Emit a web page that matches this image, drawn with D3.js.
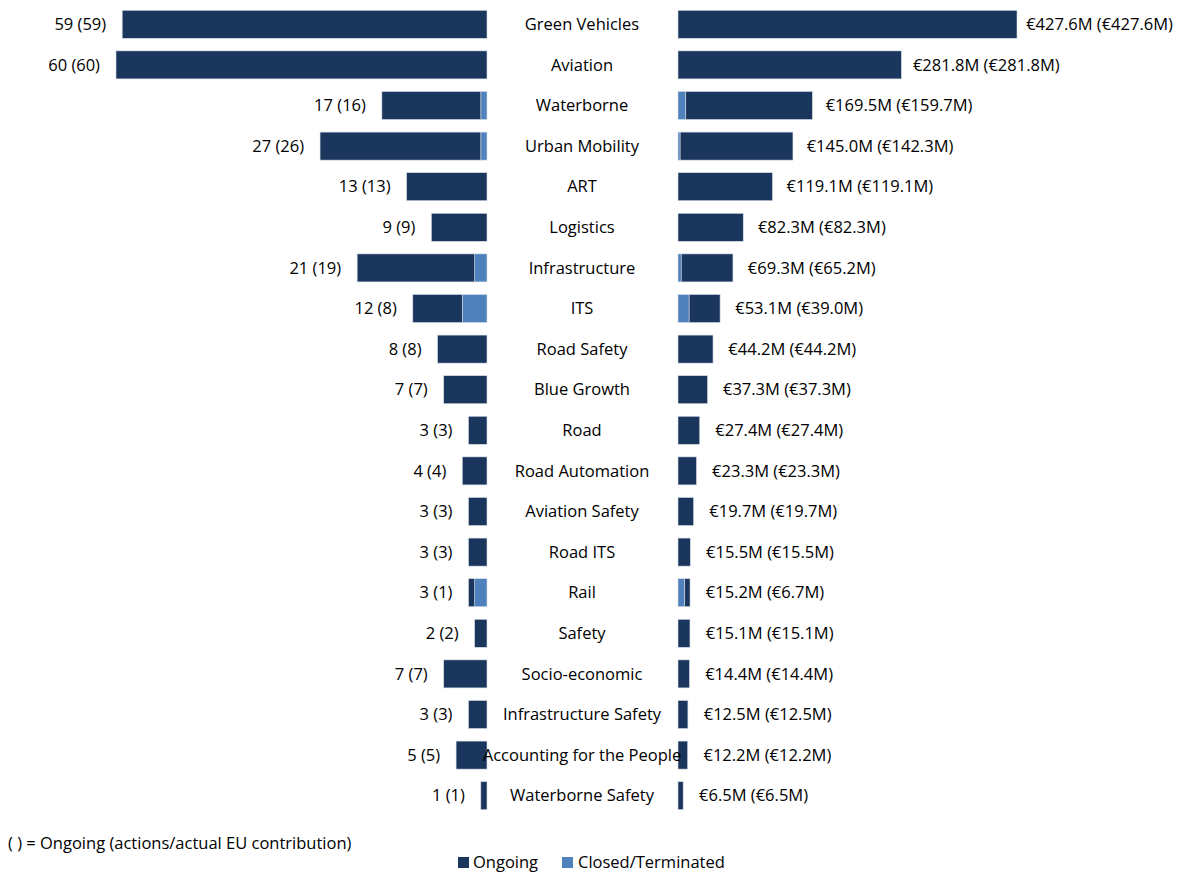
<!DOCTYPE html>
<html>
<head>
<meta charset="utf-8">
<script src="https://cdn.jsdelivr.net/npm/d3@7"></script>
<style>
  html, body { margin: 0; padding: 0; background: #fff; }
  svg { display: block; font-family: "Open Sans", sans-serif; }
</style>
</head>
<body>
<svg id="chart" width="1182" height="874"></svg>
<script>
// Thematic areas, ordered by total EU contribution
const categories = [
  "Green Vehicles", "Aviation", "Waterborne", "Urban Mobility", "ART", "Logistics",
  "Infrastructure", "ITS", "Road Safety", "Blue Growth", "Road", "Road Automation",
  "Aviation Safety", "Road ITS", "Rail", "Safety", "Socio-economic",
  "Infrastructure Safety", "Accounting for the People", "Waterborne Safety"
];
// Number of actions: total and ongoing
const actionsTotal   = [59, 60, 17, 27, 13, 9, 21, 12, 8, 7, 3, 4, 3, 3, 3, 2, 7, 3, 5, 1];
const actionsOngoing = [59, 60, 16, 26, 13, 9, 19, 8, 8, 7, 3, 4, 3, 3, 1, 2, 7, 3, 5, 1];
// EU contribution (million EUR): total and ongoing
const fundTotal   = [427.6, 281.8, 169.5, 145.0, 119.1, 82.3, 69.3, 53.1, 44.2, 37.3, 27.4, 23.3, 19.7, 15.5, 15.2, 15.1, 14.4, 12.5, 12.2, 6.5];
const fundOngoing = [427.6, 281.8, 159.7, 142.3, 119.1, 82.3, 65.2, 39.0, 44.2, 37.3, 27.4, 23.3, 19.7, 15.5, 6.7, 15.1, 14.4, 12.5, 12.2, 6.5];
const legendLabels = ["Ongoing", "Closed/Terminated"];
const noteText = "( ) = Ongoing (actions/actual EU contribution)";

const colOngoing = "#1b365d";
const colClosed = "#4f81bd";
const edge = "#d5dce6";

const svg = d3.select("#chart");

const y = d3.scaleBand().domain(categories).range([4, 816]).paddingInner(0.31).paddingOuter(0.155);

// Left side: actions, growing leftwards from the centre column
const xL = d3.scaleLinear().domain([0, 60]).range([487, 116]);
// Right side: EU contribution, growing rightwards
const xR = d3.scaleLinear().domain([0, 427.6]).range([678, 1017]);

const rows = categories.map((c, i) => ({
  cat: c,
  aT: actionsTotal[i], aO: actionsOngoing[i],
  fT: fundTotal[i], fO: fundOngoing[i]
}));

const g = svg.append("g");
const bh = y.bandwidth();

// Closed segments sit next to the centre, ongoing segments outside them
g.selectAll(".lc").data(rows.filter(d => d.aT > d.aO)).join("rect")
  .attr("x", d => xL(d.aT - d.aO)).attr("y", d => y(d.cat))
  .attr("width", d => xL(0) - xL(d.aT - d.aO)).attr("height", bh)
  .attr("fill", colClosed).attr("stroke", edge).attr("stroke-width", 0.6);
g.selectAll(".lo").data(rows).join("rect")
  .attr("x", d => xL(d.aT)).attr("y", d => y(d.cat))
  .attr("width", d => xL(d.aT - d.aO) - xL(d.aT)).attr("height", bh)
  .attr("fill", colOngoing).attr("stroke", edge).attr("stroke-width", 0.6);

g.selectAll(".rc").data(rows.filter(d => d.fT > d.fO)).join("rect")
  .attr("x", xR(0)).attr("y", d => y(d.cat))
  .attr("width", d => xR(d.fT - d.fO) - xR(0)).attr("height", bh)
  .attr("fill", colClosed).attr("stroke", edge).attr("stroke-width", 0.6);
g.selectAll(".ro").data(rows).join("rect")
  .attr("x", d => xR(d.fT - d.fO)).attr("y", d => y(d.cat))
  .attr("width", d => xR(d.fT) - xR(d.fT - d.fO)).attr("height", bh)
  .attr("fill", colOngoing).attr("stroke", edge).attr("stroke-width", 0.6);

const fs = 16.5;
// Action counts
g.selectAll(".ll").data(rows).join("text")
  .attr("x", d => xL(d.aT) - 16).attr("y", d => y(d.cat) + bh / 2)
  .attr("dy", "0.35em").attr("text-anchor", "end")
  .attr("font-size", fs).attr("fill", "#000")
  .text(d => `${d.aT} (${d.aO})`);
// Contribution values
g.selectAll(".rl").data(rows).join("text")
  .attr("x", d => xR(d.fT) + 16 - 0.016 * d.fT).attr("y", d => y(d.cat) + bh / 2)
  .attr("dy", "0.35em").attr("text-anchor", "start")
  .attr("font-size", fs).attr("fill", "#000")
  .text(d => `€${d.fT.toFixed(1)}M (€${d.fO.toFixed(1)}M)`);
// Category names
g.selectAll(".cl").data(rows).join("text")
  .attr("x", 582).attr("y", d => y(d.cat) + bh / 2)
  .attr("dy", "0.35em").attr("text-anchor", "middle")
  .attr("font-size", fs).attr("fill", "#000")
  .text(d => d.cat);

// Footnote
svg.append("text").attr("x", 8).attr("y", 843).attr("dy", "0.35em")
  .attr("font-size", fs).text(noteText);

// Legend
const legend = svg.append("g");
const lx = [458, 562];
const tx = [473, 578];
[colOngoing, colClosed].forEach((c, i) => {
  legend.append("rect").attr("x", lx[i]).attr("y", 857).attr("width", 11).attr("height", 11).attr("fill", c);
  legend.append("text").attr("x", tx[i]).attr("y", 862).attr("dy", "0.35em")
    .attr("font-size", fs).text(legendLabels[i]);
});
</script>
</body>
</html>
